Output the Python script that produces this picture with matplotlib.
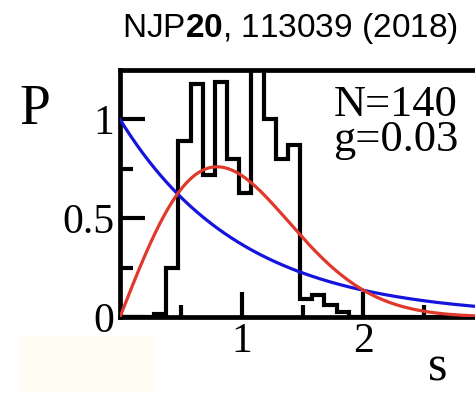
import numpy as np
import matplotlib.pyplot as plt
from matplotlib.patches import Rectangle

# Level spacing histogram (bin width 0.1) and the two reference curves
bin_edges = [0.0, 0.28, 0.38, 0.48, 0.58, 0.68, 0.78, 0.88, 0.98, 1.08, 1.18,
             1.28, 1.38, 1.48, 1.58, 1.68, 1.78, 1.88, 3.2]
bin_heights = [0.0, 0.015, 0.25, 0.89, 1.18, 0.72, 1.19, 0.80, 0.63, 1.42, 1.0,
               0.80, 0.87, 0.09, 0.11, 0.06, 0.025, 0.0]
x_ticks = [1, 2]
y_ticks = [0, 0.5, 1]
y_ticklabels = ["0", "0.5", "1"]
n_levels = 140
coupling = 0.03

s = np.linspace(0, 3.2, 400)
poisson = np.exp(-s)
wigner = np.pi / 2 * s * np.exp(-np.pi * s ** 2 / 4)

plt.rcParams["font.family"] = ["Liberation Serif", "DejaVu Serif"]
plt.rcParams["mathtext.fontset"] = "custom"
plt.rcParams["mathtext.rm"] = "Liberation Sans"
plt.rcParams["mathtext.bf"] = "Liberation Sans:bold"

fig = plt.figure(figsize=(4.75, 3.93), dpi=100)
fig.patches.append(Rectangle((20 / 475, 0), 133 / 475, 56 / 393,
                             transform=fig.transFigure, color="#fffcf4", zorder=-1))

ax = fig.add_axes([120 / 475, 76 / 393, 365 / 475, 247 / 393])
ax.stairs(bin_heights, bin_edges, color="black", linewidth=3.0, zorder=2)
ax.plot(s, poisson, color="#1414dc", linewidth=2.3, zorder=3)
ax.plot(s, wigner, color="#e0382a", linewidth=2.3, zorder=3)

ax.set_xlim(0, 3.0)
ax.set_ylim(0, 1.25)
ax.set_xticks(x_ticks)
ax.set_xticks([0.5, 1.5, 2.5], minor=True)
ax.set_yticks(y_ticks)
ax.set_yticklabels(y_ticklabels)
ax.set_yticks([0.25, 0.75], minor=True)
ax.tick_params(which="major", direction="in", length=18, width=3, labelsize=30, pad=4)
ax.tick_params(which="minor", direction="in", length=9, width=3)
for side in ax.spines.values():
    side.set_linewidth(3.4)

ax.text(0.585, 0.94, f"N={n_levels}\ng={coupling}", transform=ax.transAxes,
        fontsize=32, va="top", ha="left", linespacing=0.85)
fig.text(35 / 475, 1 - 110 / 393, "P", fontsize=40, ha="center", va="center")
fig.text(438 / 475, 1 - 368 / 393, "s", fontsize=36, ha="center", va="center")
fig.text(290 / 475, 1 - 28 / 393, r"NJP$\mathbf{20}$, 113039 (2018)",
         fontsize=24, ha="center", va="center", family="Liberation Sans")

fig.savefig("out.png", dpi=100)
